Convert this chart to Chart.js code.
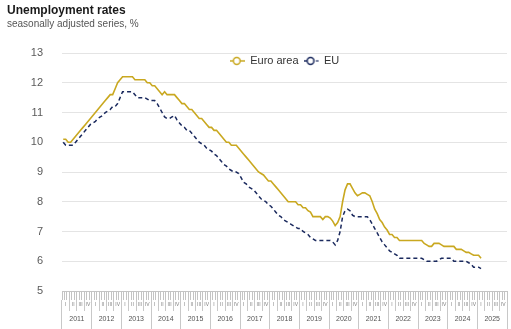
<!DOCTYPE html>
<html><head><meta charset="utf-8">
<script src="https://cdn.jsdelivr.net/npm/chart.js@4"></script>
<style>html,body{margin:0;padding:0;background:#fff}#wrap{width:511px;height:329px}</style>
</head><body><div id="wrap"><canvas id="c" width="511" height="329"></canvas></div>
<script>
const years = ['2011','2012','2013','2014','2015','2016','2017','2018','2019','2020','2021','2022','2023','2024','2025'];
const quarterNames = ['I','II','III','IV'];
const yTicks = [5,6,7,8,9,10,11,12,13];
const seriesNames = ['Euro area','EU'];

const euroArea = [
 10.1,10.1,10.0,10.0,10.1,10.2,10.3,10.4,10.5,10.6,10.7,10.8,
 10.9,11.0,11.1,11.2,11.3,11.4,11.5,11.6,11.6,11.8,12.0,12.1,
 12.2,12.2,12.2,12.2,12.2,12.1,12.1,12.1,12.1,12.1,12.0,12.0,
 11.9,11.9,11.8,11.7,11.6,11.7,11.6,11.6,11.6,11.6,11.5,11.4,
 11.3,11.3,11.2,11.1,11.1,11.0,10.9,10.8,10.8,10.7,10.6,10.5,
 10.5,10.4,10.4,10.3,10.2,10.1,10.0,10.0,9.9,9.9,9.9,9.8,
 9.7,9.6,9.5,9.4,9.3,9.2,9.1,9.0,8.95,8.9,8.8,8.7,
 8.7,8.6,8.5,8.4,8.3,8.2,8.1,8.0,8.0,8.0,8.0,7.9,
 7.9,7.8,7.8,7.7,7.65,7.5,7.5,7.5,7.5,7.4,7.5,7.5,
 7.45,7.35,7.2,7.3,7.5,8.0,8.4,8.6,8.6,8.45,8.3,8.2,
 8.25,8.3,8.3,8.25,8.2,8.0,7.75,7.6,7.4,7.3,7.15,7.05,
 6.9,6.9,6.8,6.8,6.7,6.7,6.7,6.7,6.7,6.7,6.7,6.7,
 6.7,6.7,6.6,6.55,6.5,6.5,6.6,6.6,6.6,6.55,6.5,6.5,
 6.5,6.5,6.5,6.4,6.4,6.4,6.35,6.3,6.3,6.25,6.2,6.2,
 6.2,6.1
];
const eu = [
 10.0,9.9,9.9,9.9,9.9,10.0,10.1,10.2,10.3,10.4,10.5,10.6,
 10.65,10.7,10.8,10.85,10.9,11.0,11.05,11.1,11.2,11.2,11.3,11.5,
 11.7,11.7,11.7,11.7,11.7,11.6,11.5,11.5,11.5,11.5,11.45,11.4,
 11.4,11.4,11.3,11.15,11.0,10.85,10.8,10.8,10.85,10.9,10.75,10.65,
 10.55,10.5,10.4,10.4,10.3,10.2,10.1,10.0,9.95,9.9,9.8,9.75,
 9.7,9.6,9.55,9.45,9.35,9.25,9.2,9.1,9.05,9.0,9.0,8.95,
 8.8,8.65,8.6,8.5,8.45,8.4,8.3,8.2,8.1,8.05,8.0,7.9,
 7.85,7.75,7.65,7.55,7.5,7.4,7.35,7.3,7.25,7.2,7.15,7.1,
 7.1,7.0,6.95,6.9,6.8,6.75,6.7,6.7,6.7,6.7,6.7,6.7,
 6.7,6.65,6.55,6.7,7.0,7.5,7.7,7.75,7.7,7.55,7.5,7.5,
 7.5,7.5,7.5,7.5,7.4,7.25,7.1,6.95,6.8,6.65,6.55,6.45,
 6.35,6.3,6.25,6.2,6.1,6.1,6.1,6.1,6.1,6.1,6.1,6.1,
 6.1,6.1,6.05,6.0,6.0,6.0,6.0,6.0,6.05,6.1,6.1,6.1,
 6.1,6.1,6.0,6.0,6.0,6.0,6.0,6.0,5.95,5.9,5.8,5.8,
 5.8,5.75
];

const GOLD = '#c9a820';
const NAVY = '#1b2a5e';
const FONT = "'Liberation Sans', Arial, sans-serif";

const monthLabels = [];
years.forEach(y => { for (let m = 1; m <= 12; m++) monthLabels.push(y + '-' + m); });
const quarterLabels = [];
years.forEach(() => quarterNames.forEach(q => quarterLabels.push(q)));

function legendIcon(color, dashed) {
  const c = document.createElement('canvas');
  c.width = 15; c.height = 10;
  const x = c.getContext('2d');
  x.strokeStyle = color; x.lineWidth = 1.5;
  if (!dashed) {
    x.beginPath(); x.moveTo(0, 5); x.lineTo(15, 5); x.stroke();
  } else {
    x.beginPath(); x.moveTo(0, 5); x.lineTo(4, 5); x.stroke();
    x.beginPath(); x.moveTo(12.5, 5); x.lineTo(14.5, 5); x.stroke();
  }
  x.beginPath(); x.arc(7, 5, 3.4, 0, Math.PI * 2);
  x.fillStyle = '#fff'; x.fill(); x.stroke();
  return c;
}
const icons = [legendIcon(GOLD, false), legendIcon(NAVY, true)];

const legendFit = {
  id: 'legendFit',
  afterInit(chart) {
    const lg = chart.legend;
    const origFit = lg.fit;
    lg.fit = function () { origFit.call(this); this.height = 2.6; };
    const origDraw = lg.draw;
    lg.draw = function () {
      const b = this.bottom, h = this.height;
      this.bottom = b + 30; this.height = h + 30;
      origDraw.call(this);
      this.bottom = b; this.height = h;
    };
  }
};

new Chart(document.getElementById('c'), {
  type: 'line',
  data: {
    labels: monthLabels,
    datasets: [
      { label: seriesNames[0], data: euroArea, borderColor: GOLD, backgroundColor: GOLD,
        borderWidth: 1.6, pointRadius: 0, tension: 0, fill: false },
      { label: seriesNames[1], data: eu, borderColor: NAVY, backgroundColor: NAVY,
        borderWidth: 1.5, borderDash: [4, 3], pointRadius: 0, tension: 0, fill: false }
    ]
  },
  options: {
    responsive: false,
    animation: false,
    devicePixelRatio: 1,
    layout: { padding: { top: 3, left: 7, right: 4, bottom: 0 } },
    plugins: {
      title: { display: true, text: 'Unemployment rates', align: 'start', color: '#1a1a1a',
        font: { family: FONT, size: 12, weight: 'bold' }, padding: { top: 0, bottom: 1 } },
      subtitle: { display: true, text: 'seasonally adjusted series, %', align: 'start', color: '#555',
        font: { family: FONT, size: 10 }, padding: { top: 0, bottom: 20 } },
      legend: {
        display: true, position: 'top', fullSize: false, align: 'center',
        labels: {
          usePointStyle: true, pointStyleWidth: 15, padding: 5, color: '#333',
          font: { family: FONT, size: 11 },
          generateLabels(chart) {
            const items = Chart.defaults.plugins.legend.labels.generateLabels(chart);
            items.forEach((it, i) => { it.pointStyle = icons[i]; });
            return items;
          }
        }
      },
      tooltip: { enabled: false }
    },
    scales: {
      y: {
        min: 5, max: 13,
        afterBuildTicks(s) { s.ticks = yTicks.map(v => ({ value: v })); },
        afterFit(s) { s.width = 55; },
        grid: { color: '#e4e4e4', drawTicks: false },
        border: { display: false },
        ticks: { color: '#5a5a5a', padding: 19, font: { family: FONT, size: 11 } }
      },
      x: {
        type: 'category', labels: monthLabels, offset: true, position: 'bottom', weight: 0,
        grid: { offset: true, drawOnChartArea: false, tickLength: 9, color: '#c4c4c4' },
        border: { display: true, color: '#c4c4c4' },
        ticks: { display: false, autoSkip: false },
        afterFit(s) { s.height = 9; }
      },
      xq: {
        type: 'category', labels: quarterLabels, offset: true, position: 'bottom', weight: 1,
        grid: { offset: true, drawOnChartArea: false, tickLength: 11, color: '#c8c8c8' },
        border: { display: false },
        ticks: { autoSkip: false, maxRotation: 0, padding: -9, color: '#808080', font: { family: FONT, size: 5 } },
        afterFit(s) { s.height = 11; }
      },
      xy: {
        type: 'category', labels: years, offset: true, position: 'bottom', weight: 2,
        grid: { offset: true, drawOnChartArea: false, tickLength: 18, color: '#c8c8c8' },
        border: { display: false },
        ticks: { autoSkip: false, maxRotation: 0, padding: -14, color: '#555', font: { family: FONT, size: 7 } },
        afterFit(s) { s.height = 18; }
      }
    }
  },
  plugins: [legendFit]
});
</script>
</body></html>
